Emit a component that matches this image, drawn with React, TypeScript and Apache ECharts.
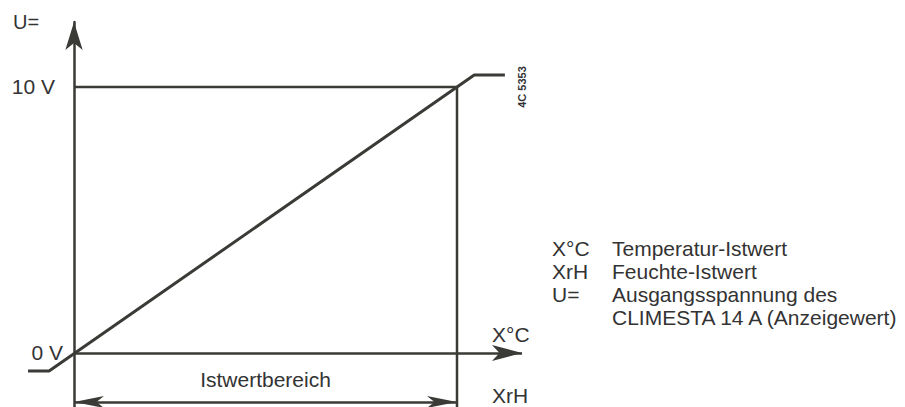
import React, { useEffect, useRef } from 'react';
import * as echarts from 'echarts';

// Normalized measuring range (0 = start, 1 = end of Istwertbereich) and output (0 = 0 V, 1 = 10 V)
const rangeX = [0, 1];
const outputLineX = [-0.12, -0.065, 1.045, 1.125];
const outputLineY = [-0.068, -0.068, 1.045, 1.045];
const refLineX = [0, 1, 1];
const refLineY = [1, 1, -0.203];
const dimLineY = -0.184;
const xAxisEnd = 1.1697;
const yTickValues = [0, 1];
const yTickLabels = ['0 V', '10 V'];
const yAxisName = 'U=';
const xAxisNames = ['X°C', 'XrH'];
const rangeName = 'Istwertbereich';
const drawingNo = '4C 5353';
const legendSymbols = ['X°C', 'XrH', 'U='];
const legendTexts = ['Temperatur-Istwert', 'Feuchte-Istwert', 'Ausgangsspannung des\nCLIMESTA 14 A (Anzeigewert)'];

const INK = '#3a3a36';
const TEXT = '#333333';
const FONT = 'Liberation Sans';

export default function App() {
  const ref = useRef<HTMLDivElement>(null);
  useEffect(() => {
    if (!ref.current) return;
    const chart = echarts.init(ref.current, null, { renderer: 'svg' });
    const legendGraphics: any[] = [];
    let row = 0;
    legendSymbols.forEach((s, i) => {
      legendGraphics.push({
        type: 'text', left: 552, top: 237 + row * 23,
        style: { text: s, fontSize: 21, fontFamily: FONT, fill: TEXT, lineHeight: 23 }
      });
      legendGraphics.push({
        type: 'text', left: 612, top: 237 + row * 23,
        style: { text: legendTexts[i], fontSize: 21, fontFamily: FONT, fill: TEXT, lineHeight: 23 }
      });
      row += legendTexts[i].split('\n').length;
    });
    chart.setOption({
      animation: false,
      backgroundColor: '#ffffff',
      grid: { left: 0, top: 22, right: 0, bottom: 0, containLabel: false, outerBoundsMode: 'none' },
      xAxis: {
        type: 'value', min: -0.1932, max: 2.1697,
        axisLine: { show: false },
        axisTick: { show: false }, axisLabel: { show: false }, splitLine: { show: false }
      },
      yAxis: {
        type: 'value', min: -0.203, max: 1.244, position: 'left', offset: -74,
        axisLine: { show: true, onZero: false, symbol: ['none', 'arrow'], symbolSize: [13, 28], lineStyle: { color: INK, width: 2.5 } },
        axisTick: { show: false },
        axisLabel: {
          show: true, customValues: yTickValues, margin: 11,
          fontSize: 21, fontFamily: FONT, color: TEXT,
          formatter: (v: number) => {
            const i = yTickValues.indexOf(v);
            if (i < 0) return '';
            return i === 1 ? '{p|' + yTickLabels[i] + '}' : yTickLabels[i];
          },
          rich: { p: { fontSize: 21, fontFamily: FONT, color: TEXT, padding: [0, 8, 0, 0] } }
        },
        splitLine: { show: false }
      },
      series: [
        {
          type: 'line', clip: false, symbol: 'none', silent: true,
          lineStyle: { color: INK, width: 2.5 },
          data: refLineX.map((x, i) => [x, refLineY[i]]),
          markLine: {
            silent: true, symbol: ['arrow', 'arrow'], symbolSize: [9, 30],
            lineStyle: { color: INK, width: 2.5, type: 'solid' },
            label: { show: true, position: 'middle', formatter: rangeName, fontSize: 21, fontFamily: FONT, color: TEXT, distance: 12 },
            data: [[{ coord: [rangeX[0], dimLineY] }, { coord: [rangeX[1], dimLineY] }]]
          }
        },
        {
          type: 'line', clip: false, symbol: 'none', silent: true,
          lineStyle: { color: INK, width: 3 },
          data: outputLineX.map((x, i) => [x, outputLineY[i]]),
          markLine: {
            silent: true, symbol: ['none', 'arrow'], symbolSize: [12, 30],
            lineStyle: { color: INK, width: 2.5, type: 'solid' },
            label: { show: false },
            data: [[{ coord: [0, 0] }, { coord: [xAxisEnd, 0] }]]
          }
        }
      ],
      graphic: [
        { type: 'text', left: 13, top: 12, style: { text: yAxisName, fontSize: 20, fontFamily: FONT, fill: TEXT } },
        { type: 'text', left: 492, top: 324, style: { text: xAxisNames[0], fontSize: 21, fontFamily: FONT, fill: TEXT } },
        { type: 'text', left: 492, top: 385, style: { text: xAxisNames[1], fontSize: 21, fontFamily: FONT, fill: TEXT } },
        {
          type: 'text', x: 522, y: 87, rotation: Math.PI / 2,
          style: { text: drawingNo, fontSize: 11, fontWeight: 'bold', fontFamily: FONT, fill: TEXT, align: 'center', verticalAlign: 'middle' }
        },
        ...legendGraphics
      ]
    });
    return () => chart.dispose();
  }, []);
  return <div ref={ref} style={{ position: 'fixed', left: 0, top: 0, width: 905, height: 407, background: '#fff' }} />;
}
